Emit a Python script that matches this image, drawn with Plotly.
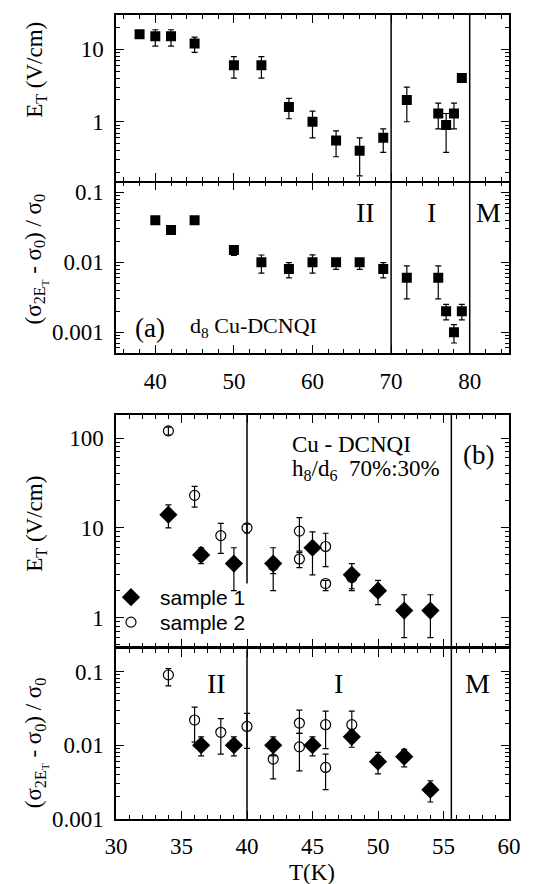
import plotly.graph_objects as go

# ---- panel (a): d8 Cu-DCNQI ----
a_T_et = [38, 40, 42, 45, 50, 53.5, 57, 60, 63, 66, 69, 72, 76, 77, 78, 79]
a_et = [16, 15, 15, 12, 6, 6, 1.6, 1.0, 0.55, 0.4, 0.6, 2.0, 1.3, 0.9, 1.3, 4.0]
a_et_hi = [16, 18.5, 18.5, 14.6, 7.9, 7.9, 2.1, 1.4, 0.75, 0.6, 0.8, 3.0, 1.8, 1.3, 1.8, 4.0]
a_et_lo = [16, 11, 11, 9, 4, 4, 1.1, 0.6, 0.33, 0.18, 0.38, 1.0, 0.8, 0.38, 0.8, 4.0]

a_T_s = [40, 42, 45, 50, 53.5, 57, 60, 63, 66, 69, 72, 76, 77, 78, 79]
a_s = [0.04, 0.029, 0.04, 0.015, 0.01, 0.008, 0.01, 0.01, 0.01, 0.008, 0.006, 0.006, 0.002, 0.001, 0.002]
a_s_hi = [0.04, 0.029, 0.04, 0.017, 0.0127, 0.0099, 0.0128, 0.011, 0.011, 0.0099, 0.0089, 0.0089, 0.0025, 0.00128, 0.0025]
a_s_lo = [0.04, 0.029, 0.04, 0.0125, 0.007, 0.006, 0.007, 0.0079, 0.0079, 0.006, 0.003, 0.003, 0.0015, 0.0007, 0.0015]

# ---- panel (b): Cu-DCNQI h8/d6 70%:30% ----
b1_T_et = [34, 36.5, 39, 42, 45, 48, 50, 52, 54]
b1_et = [14, 5, 4, 4, 6, 3, 2, 1.2, 1.2]
b1_et_hi = [18, 6, 6, 6, 9, 4, 2.6, 1.8, 1.8]
b1_et_lo = [10, 4, 2, 2, 3, 2, 1.4, 0.6, 0.6]

b2_T_et = [34, 36, 38, 40, 42, 44, 44, 46, 46, 48]
b2_et = [120, 23, 8.2, 10, 3.8, 9.2, 4.5, 6.2, 2.4, 2.8]
b2_et_hi = [132, 29, 11.2, 11, 4.5, 13, 5.3, 8.7, 2.6, 3.3]
b2_et_lo = [108, 17, 5.2, 8.8, 3.1, 5.5, 3.6, 3.7, 2.0, 2.1]

b1_T_s = [36.5, 39, 42, 45, 48, 50, 52, 54]
b1_s = [0.01, 0.01, 0.01, 0.01, 0.013, 0.006, 0.007, 0.0025]
b1_s_hi = [0.013, 0.013, 0.013, 0.013, 0.016, 0.008, 0.0088, 0.0033]
b1_s_lo = [0.0072, 0.0072, 0.0072, 0.0072, 0.0094, 0.0041, 0.0051, 0.0017]

b2_T_s = [34, 36, 38, 40, 42, 44, 44, 46, 46, 48]
b2_s = [0.09, 0.022, 0.015, 0.018, 0.0065, 0.02, 0.0095, 0.019, 0.005, 0.019]
b2_s_hi = [0.11, 0.033, 0.023, 0.027, 0.0085, 0.03, 0.0145, 0.029, 0.0076, 0.029]
b2_s_lo = [0.064, 0.011, 0.0076, 0.0091, 0.0035, 0.0145, 0.0045, 0.009, 0.0025, 0.013]

SERIF = "Liberation Serif, Times New Roman, serif"
SANS = "Liberation Sans, Arial, sans-serif"

# plot area in pixels: x 108..501, y 5..811
L, R, T, B = 108, 47, 5, 73
PW, PH = 548 - L - R, 884 - T - B


def px(xp):
    return (xp - L) / PW


def py(yp):
    return (884 - B - yp) / PH


def errs(v, hi, lo):
    return dict(type="data", symmetric=False,
                array=[h - x for h, x in zip(hi, v)],
                arrayminus=[x - l for x, l in zip(v, lo)],
                color="black", thickness=1.2, width=3)


fig = go.Figure()


def add(x, y, hi, lo, xa, ya, symbol, size, name=None, legend=None, open_=False):
    fig.add_trace(go.Scatter(
        x=x, y=y, mode="markers", xaxis=xa, yaxis=ya, name=name,
        showlegend=legend is not None, legend=legend or "legend",
        error_y=errs(y, hi, lo),
        marker=dict(symbol=symbol, size=size, color="black",
                    line=dict(color="black", width=1.2 if open_ else 0))))


add(a_T_et, a_et, a_et_hi, a_et_lo, "x", "y", "square", 10)
add(a_T_s, a_s, a_s_hi, a_s_lo, "x2", "y2", "square", 10)
add(b2_T_et, b2_et, b2_et_hi, b2_et_lo, "x3", "y3", "circle-open", 10, "sample 2", "legend2", True)
add(b1_T_et, b1_et, b1_et_hi, b1_et_lo, "x3", "y3", "diamond", 14, "sample 1", "legend")
add(b2_T_s, b2_s, b2_s_hi, b2_s_lo, "x4", "y4", "circle-open", 10, None, None, True)
add(b1_T_s, b1_s, b1_s_hi, b1_s_lo, "x4", "y4", "diamond", 14)


def minor_logs(lo, hi):
    return [m * 10 ** e for e in range(lo, hi) for m in range(2, 10)]


def xax(rng, dtick, minor, anchor, labels):
    return dict(range=rng, dtick=dtick, tick0=0, ticks="inside", ticklen=8, tickwidth=1.2,
                tickcolor="black", showline=True, linewidth=1.5, linecolor="black",
                mirror="allticks", showgrid=False, zeroline=False, anchor=anchor,
                showticklabels=labels, ticklabelstandoff=6,
                tickfont=dict(family=SERIF, size=23, color="black"),
                minor=dict(dtick=minor, ticks="inside", ticklen=4, tickwidth=1, tickcolor="black"))


def yax(rng, dom, vals, texts, anchor):
    return dict(type="log", range=rng, domain=dom, anchor=anchor,
                tickvals=vals, ticktext=texts, ticks="inside", ticklen=8, tickwidth=1.2,
                tickcolor="black", showline=True, linewidth=1.5, linecolor="black",
                mirror="allticks", showgrid=False, zeroline=False, ticklabelstandoff=6,
                tickfont=dict(family=SERIF, size=23, color="black"),
                minor=dict(tickvals=minor_logs(-4, 3), ticks="inside", ticklen=4,
                           tickwidth=1, tickcolor="black"))


def leg(yp):
    return dict(x=px(94), y=py(yp), xanchor="left", yanchor="middle", itemwidth=48,
                font=dict(family=SANS, size=21, color="black"), bgcolor="rgba(0,0,0,0)")


fig.update_layout(
    width=548, height=884,
    margin=dict(l=L, r=R, t=T, b=B),
    plot_bgcolor="white", paper_bgcolor="white",
    xaxis=xax([35, 85], 10, 2, "y", False),
    xaxis2=xax([35, 85], 10, 2, "y2", True),
    xaxis3=xax([30, 60], 5, 1, "y3", False),
    xaxis4=xax([30, 60], 5, 1, "y4", True),
    yaxis=yax([-0.81, 1.47], [py(171), py(5)], [1, 10], ["1", "10"], "x"),
    yaxis2=yax([-3.3, -0.86], [py(344), py(173)], [0.001, 0.01, 0.1], ["0.001", "0.01", "0.1"], "x2"),
    yaxis3=yax([-0.32, 2.256], [py(638), py(406)], [1, 10, 100], ["1", "10", "100"], "x3"),
    yaxis4=yax([-3, -0.7], [0, py(641)], [0.001, 0.01, 0.1], ["0.001", "0.01", "0.1"], "x4"),
    legend=leg(589),
    legend2=leg(614),
    font=dict(family=SERIF, color="black"),
)

line = dict(color="black", width=1.5)
fig.update_layout(shapes=[
    dict(type="line", xref="x2", yref="paper", x0=70, x1=70, y0=py(344), y1=1.0, line=line),
    dict(type="line", xref="x2", yref="paper", x0=80, x1=80, y0=py(344), y1=1.0, line=line),
    dict(type="line", xref="x4", yref="paper", x0=40, x1=40, y0=0, y1=py(641), line=line),
    dict(type="line", xref="x3", yref="paper", x0=40, x1=40, y0=py(575), y1=py(406), line=line),
    dict(type="line", xref="x4", yref="paper", x0=55.6, x1=55.6, y0=0, y1=py(406), line=line),
])


def note(text, x, y, size, xref="paper", xanchor="center", angle=0):
    fig.add_annotation(text=text, x=x, y=y, xref=xref, yref="paper", showarrow=False,
                       xanchor=xanchor, yanchor="middle", textangle=angle,
                       font=dict(family=SERIF, size=size, color="black"))


# region labels
for lab, xv in [("II", 66.7), ("I", 75.2), ("M", 82.4)]:
    note(lab, xv, py(203), 28, "x2")
for lab, xv in [("II", 37.65), ("I", 47.0), ("M", 57.6)]:
    note(lab, xv, py(675), 28, "x4")

note("(a)", px(142), py(319), 27)
note("d<sub>8</sub> Cu-DCNQI", px(180), py(318), 22, xanchor="left")

note("Cu - DCNQI", px(282), py(436), 23, xanchor="left")
note("h<sub>8</sub>/d<sub>6</sub>  70%:30%", px(282), py(461), 23, xanchor="left")
note("(b)", px(470), py(446), 27)

note("T(K)", px(304), py(865), 23)

ylab_x = px(28)
sig = "(σ<sub>2E<sub>T</sub></sub> - σ<sub>0</sub>) / σ<sub>0</sub>"
note("E<sub>T</sub> (V/cm)", ylab_x, py(60), 23, angle=-90)
note(sig, ylab_x, py(250), 23, angle=-90)
note("E<sub>T</sub> (V/cm)", ylab_x, py(515), 23, angle=-90)
note(sig, ylab_x, py(735), 23, angle=-90)

fig.write_html("out.html")
